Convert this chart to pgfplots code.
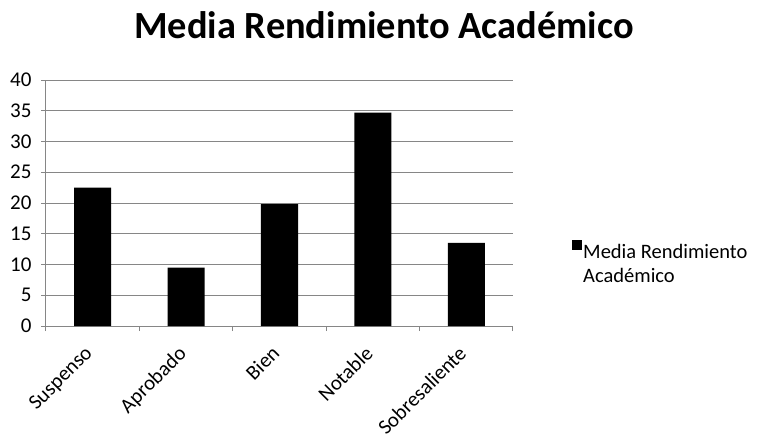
\documentclass[border=0pt]{standalone}
\usepackage{pgfplots}
\pgfplotsset{compat=1.18}
\usepackage{fontspec}
\setmainfont{Carlito}
\definecolor{gridgray}{RGB}{134,134,134}

\begin{document}
\begin{tikzpicture}[x=1pt,y=1pt]
\useasboundingbox (0,0) rectangle (766,437);
\node[anchor=base, font=\bfseries\fontsize{38.4}{44}\selectfont] at (384,398) {Media Rendimiento Académico};
\begin{axis}[
    at={(46pt,111pt)}, anchor=south west,
    scale only axis,
    width=467pt, height=246pt,
    ymin=0, ymax=40,
    ytick={0,5,...,40},
    xmin=0.5, xmax=5.5,
    xtick={1,...,5},
    xticklabels={Suspenso,Aprobado,Bien,Notable,Sobresaliente},
    minor xtick={0.5,1.5,...,5.5},
    axis lines=left,
    axis line style={-, gridgray, line width=1pt},
    ymajorgrids,
    grid style={gridgray, line width=1pt},
    tick align=outside,
    major tick length=5pt,
    minor tick length=5pt,
    tick style={gridgray, line width=1pt},
    x tick style={draw=none},
    minor x tick style={draw=gridgray, line width=1pt},
    /pgf/number format/assume math mode=true,
    tick label style={black},
    yticklabel style={font=\fontsize{21}{25}\selectfont, xshift=-6pt},
    xticklabel style={font=\fontsize{20.8}{24}\selectfont, xshift=-9pt, yshift=-12pt,
        rotate=45, anchor=north east, inner sep=1pt},
    legend style={at={(1.12,0.36)}, anchor=north west, draw=none,
        font=\fontsize{20.5}{24}\selectfont, nodes={align=left, inner sep=1pt},
        legend cell align=left},
    legend image code/.code={\fill[black] (0pt,14pt) rectangle (10pt,24pt);},
]
\addplot[ybar, bar width=37pt, fill=black, draw=none]
    coordinates {(1,22.5) (2,9.5) (3,19.8) (4,34.7) (5,13.5)};
\addlegendentry{Media Rendimiento\\Académico}
\end{axis}
\end{tikzpicture}
\end{document}
